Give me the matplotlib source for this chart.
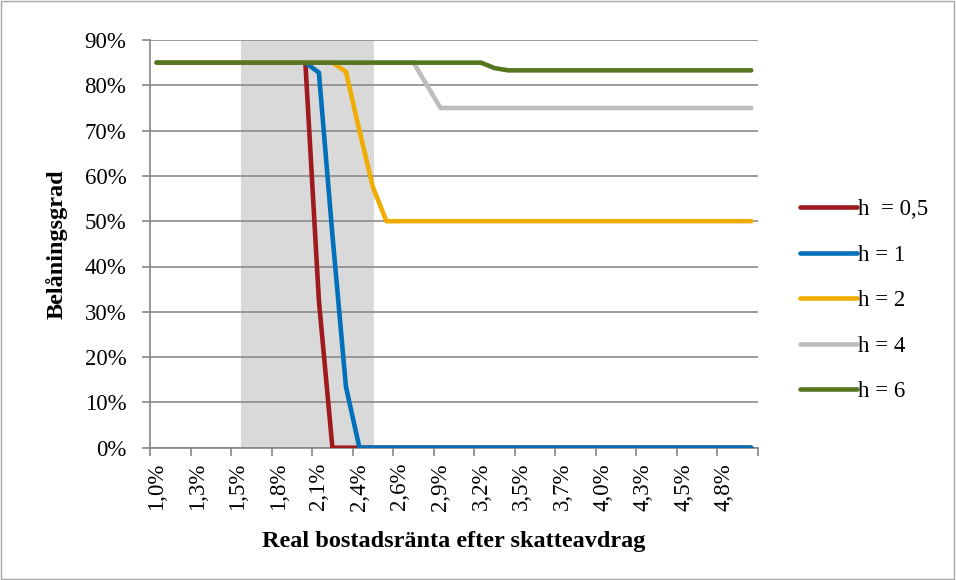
import numpy as np
import matplotlib
matplotlib.use("Agg")
import matplotlib.pyplot as plt
from matplotlib.patches import Rectangle

# categories: real mortgage rate after tax deduction, 1% .. 5% (45 steps)
rates = np.linspace(1.0, 5.0, 45)
tick_every = 3

# loan-to-value (%) per housing-price parameter h
h05 = [85] * 12 + [32.5] + [0] * 32
h1 = [85] * 12 + [82.8, 47, 13.5] + [0] * 30
h2 = [85] * 14 + [83, 70, 57.5] + [50] * 28
h4 = [85] * 20 + [80] + [75] * 24
h6 = [85] * 25 + [83.8] + [83.3] * 19

series = [
    ("h  = 0,5", h05, "#9E1A1F"),
    ("h = 1", h1, "#0070BA"),
    ("h = 2", h2, "#F0AC00"),
    ("h = 4", h4, "#BDBDBD"),
    ("h = 6", h6, "#55751F"),
]

# shaded interval (in category positions)
shade_from, shade_to = 6.23, 16.08

plt.rcParams['font.family'] = ['Liberation Serif', 'DejaVu Serif']

fig = plt.figure(figsize=(9.56, 5.8), dpi=100)
ax = fig.add_axes([150 / 956, 1 - 447.7 / 580, 608 / 956, (447.7 - 40) / 580])

idx = np.arange(len(rates))
ax.axvspan(shade_from, shade_to, color="#D9D9D9", zorder=0, lw=0)

for label, vals, col in series:
    ax.plot(idx, np.array(vals) / 100, color=col, lw=3.3, label=label,
            solid_capstyle='round', solid_joinstyle='round', zorder=3)

ax.set_xlim(-0.5, len(rates) - 0.5)
ax.set_ylim(0, 0.9)
ax.set_yticks(np.arange(0, 0.91, 0.1))
ax.set_yticklabels(["{}%".format(int(round(v * 100))) for v in np.arange(0, 0.91, 0.1)])

ax.set_xticks(idx[::tick_every])
ax.set_xticklabels(["{:.1f}%".format(r).replace(".", ",") for r in rates[::tick_every]],
                   rotation=90)
ax.set_xticks(np.arange(-0.5, len(rates), tick_every), minor=True)
ax.tick_params(axis='x', which='major', length=0, pad=11, labelsize=16.5)
ax.tick_params(axis='x', which='minor', length=6, width=1.2, color="#868686", direction='out')
ax.tick_params(axis='y', length=6, width=1.2, color="#868686", labelsize=16.5, pad=11)

ax.grid(axis='y', color="#8C8C8C", lw=1.2, zorder=1)
ax.set_axisbelow(True)
for s in ['top', 'right']:
    ax.spines[s].set_visible(False)
for s in ['left', 'bottom']:
    ax.spines[s].set_color("#868686")
    ax.spines[s].set_linewidth(1.2)

fig.text(57 / 956, 1 - 244 / 580, "Belåningsgrad", fontsize=17.5, fontweight='bold',
         rotation=90, ha='center', va='center')
fig.text(454 / 956, 1 - 542 / 580, "Real bostadsränta efter skatteavdrag", fontsize=17.5,
         fontweight='bold', ha='center', va='center')

leg = ax.legend(loc='upper left', bbox_to_anchor=(800 / 956, 1 - 199 / 580),
                bbox_transform=fig.transFigure, frameon=False, fontsize=16.5,
                handlelength=2.5, handletextpad=0.05, labelspacing=1.07,
                borderpad=0, borderaxespad=0)

fig.patches.append(Rectangle((0.001, 0.001), 0.997, 0.997, transform=fig.transFigure,
                             fill=False, edgecolor="#A6A6A6", lw=1))

fig.savefig("out.png", dpi=100)
